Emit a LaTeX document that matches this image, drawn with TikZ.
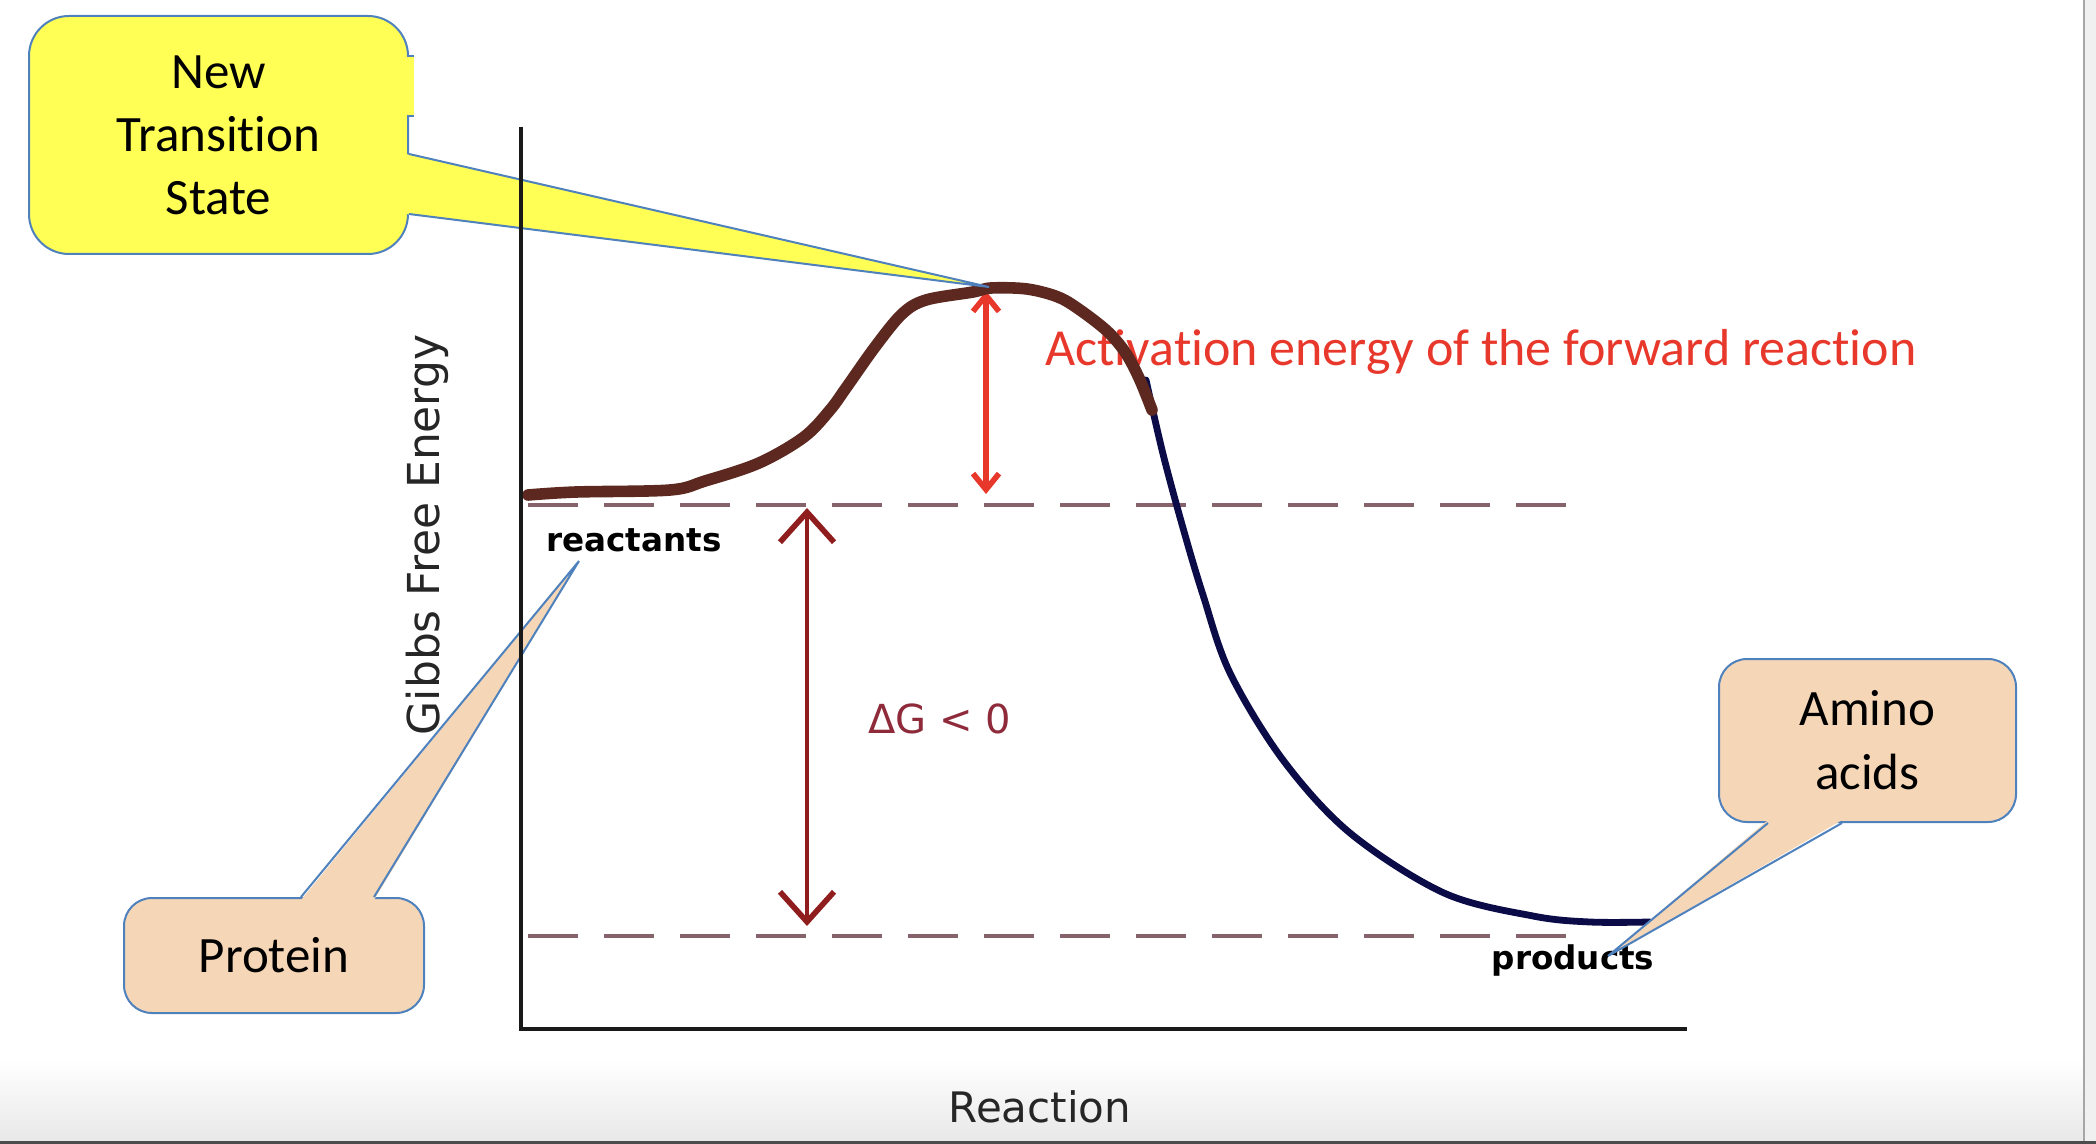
\documentclass[tikz,border=0pt]{standalone}
\usepackage{fontspec}
\setmainfont{Carlito}[Ligatures=NoCommon]
\newfontfamily\comicf{DejaVu Sans}
\usetikzlibrary{arrows.meta,calc}
\definecolor{callblue}{HTML}{4F81BD}
\definecolor{yfill}{HTML}{FFFF55}
\definecolor{pfill}{HTML}{F5D6B7}
\definecolor{brownc}{HTML}{5C2820}
\definecolor{navyc}{HTML}{0B0B48}
\definecolor{actred}{HTML}{E8372B}
\definecolor{dgred}{HTML}{8F1D1D}
\definecolor{dgtext}{HTML}{8E2A3A}
\definecolor{dashc}{HTML}{86626A}
\begin{document}
\begin{tikzpicture}[x=0.5pt,y=-0.5pt,
  ybox/.style={draw=callblue, fill=yfill, line width=1pt, rounded corners=20pt, inner sep=0pt, align=center, font=\fontsize{25.5}{31.5}\selectfont},
  pbox/.style={draw=callblue, fill=pfill, line width=1pt, rounded corners=14pt, inner sep=0pt, align=center, font=\fontsize{25.5}{32}\selectfont},
  ptrline/.style={draw=callblue, line width=1pt, line join=miter},
  levelline/.style={draw=dashc, line width=2pt, dash pattern=on 25pt off 13pt},
  comic/.style={font=\comicf\fontsize{#1}{#1}\selectfont, inner sep=0pt},
  axisline/.style={draw=black!90, line width=2.2pt}
]
\useasboundingbox (0,0) rectangle (2096,1144);
\fill[white] (0,0) rectangle (2096,1144);
% frame of the window
\shade[top color=white, bottom color=black!9] (0,1060) rectangle (2083,1141);
\fill[black!6] (2083,0) rectangle (2096,1141);
\draw[black!35, line width=1.2pt] (2084,0) -- (2084,1141);
\fill[black!70] (0,1141) rectangle (2096,1144);

% coordinates
\coordinate (ytop) at (521,127);
\coordinate (orig) at (521,1029);
\coordinate (xend) at (1687,1029);
\coordinate (rl0) at (528,505);
\coordinate (rl1) at (1566,505);
\coordinate (pl0) at (528,936);
\coordinate (pl1) at (1566,936);
\coordinate (peak) at (986,291);
\coordinate (peakbase) at (986,494);
\coordinate (dgtop) at (807,508);
\coordinate (dgbot) at (807,926);

% level lines
\draw[levelline] (rl0) -- (rl1);
\draw[levelline] (pl0) -- (pl1);

% labels of the chart
\node[comic=22, rotate=90, text=black!85] (gibbs) at (427,535) {Gibbs Free Energy};
\node[comic=16.3, font=\comicf\bfseries\fontsize{16.3}{16.3}\selectfont] (reac) at (634,540) {reactants};
\node[comic=16.3, font=\comicf\bfseries\fontsize{16.3}{16.3}\selectfont] (prod) at (1573,960) {products};
\node[comic=20, text=dgtext] (dg) at (940,719) {ΔG < 0};
\node[comic=21, text=black!85] (rxn) at (1040,1107) {Reaction};
\node[anchor=west, inner sep=0pt, text=actred, font=\fontsize{26}{26}\selectfont] (act) at (1045,352) {Activation energy of the forward reaction};

% energy arrows
\draw[actred, line width=2.6pt, {Straight Barb[length=8pt,width=13pt,line width=2.8pt]}-{Straight Barb[length=8pt,width=13pt,line width=2.8pt]}] (peak) -- (peakbase);
\draw[dgred, line width=1.8pt, {Straight Barb[length=15pt,width=27pt,line width=2.8pt]}-{Straight Barb[length=15pt,width=27pt,line width=2.8pt]}] (dgtop) -- (dgbot);

% curves
\draw[navyc, line width=3.4pt, line cap=round, line join=round] plot[smooth, tension=0.55] coordinates {(1146,380) (1163,454) (1183,528) (1203,595) (1230,673) (1283,760) (1350,833) (1444,893) (1533,916) (1590,922) (1650,922)};
\draw[brownc, line width=5.8pt, line cap=round, line join=round] plot[smooth, tension=0.55] coordinates {(528,495) (576,492) (670,490) (705,481) (759,463) (804,437) (830,410) (846,388) (875,347) (902,314) (926,300) (973,292) (991,288) (1027,289) (1058,297) (1080,310) (1107,331) (1125,352) (1139,378) (1152,410)};

% callouts
\node[ybox, minimum width=189.5pt, minimum height=119pt] (ts) at (218.5,135) {New\\Transition\\State};
\fill[yfill] (407,56) rectangle (414,116);
\draw[callblue, line width=1pt] (407,56) -- (414,56) (407,116) -- (414,116);
\coordinate (tstip) at (989,287);
\fill[yfill] ($(ts.east)+(-3,19)$) -- (tstip) -- ($(ts.east)+(-3,79)$) -- cycle;
\draw[ptrline] ($(ts.east)+(0,19)$) -- (tstip) -- ($(ts.east)+(0,79)$);

\node[pbox, minimum width=150pt, minimum height=57.5pt] (prot) at (274,955.5) {Protein};
\coordinate (prottip) at (579,561);
\fill[pfill] ($(prot.north)+(27,3)$) -- (prottip) -- ($(prot.north)+(100,3)$) -- cycle;
\draw[ptrline] ($(prot.north)+(27,0)$) -- (prottip) -- ($(prot.north)+(100,0)$);

\node[pbox, minimum width=148.5pt, minimum height=81.5pt] (amino) at (1867.5,740.5) {Amino\\acids};
\coordinate (aminotip) at (1608,956);
\fill[pfill] ($(amino.south)+(-99.5,-3)$) -- (aminotip) -- ($(amino.south)+(-25.5,-3)$) -- cycle;
\draw[ptrline] ($(amino.south)+(-99.5,0)$) -- (aminotip) -- ($(amino.south)+(-25.5,0)$);

% axes
\draw[axisline] (ytop) -- (orig) -- (xend);
\end{tikzpicture}
\end{document}
